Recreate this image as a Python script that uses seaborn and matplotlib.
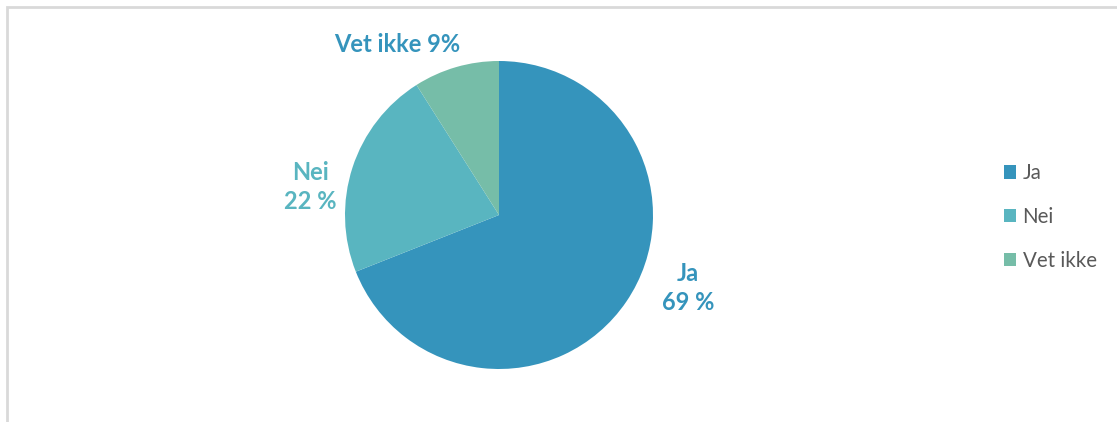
import matplotlib
matplotlib.use("Agg")
import matplotlib.pyplot as plt
import seaborn as sns
from matplotlib.patches import Rectangle, Patch

categories = ["Ja", "Nei", "Vet ikke"]
values = [69, 22, 9]
label_texts = ["Ja\n69 %", "Nei\n22 %", "Vet ikke 9%"]
colors = ["#3594BC", "#59B5C0", "#76BDA8"]
label_colors = ["#3594BC", "#59B5C0", "#3594BC"]

sns.set_theme(style="white")
plt.rcParams['font.family'] = ['Lato', 'DejaVu Sans']

W, H = 1117, 422
fig = plt.figure(figsize=(W / 100, H / 100), dpi=100)
fig.patch.set_facecolor("white")

# frame (left and top edges visible)
fig.patches.append(Rectangle((7 / W, -0.05), 1.2, (H - 7) / H + 0.05,
                             transform=fig.transFigure, fill=False,
                             edgecolor="#D9D9D9", linewidth=2))

R = 154
cx, cy = 499, 215
ax = fig.add_axes([(cx - R) / W, (H - cy - R) / H, 2 * R / W, 2 * R / H])
wedges, _ = ax.pie(values, colors=colors, startangle=90, counterclock=False,
                   radius=1, wedgeprops=dict(linewidth=0))
ax.set_xlim(-1, 1)
ax.set_ylim(-1, 1)
ax.set_aspect("equal")
ax.axis("off")

label_pos = [(1.227, -0.474), (-1.227, 0.182), (-0.662, 1.104)]
for txt, (x, y), c in zip(label_texts, label_pos, label_colors):
    ax.text(x, y, txt, ha="center", va="center", color=c, fontsize=17,
            fontweight="bold", linespacing=1.3, clip_on=False)

handles = [Patch(facecolor=c, edgecolor="none") for c in colors]
leg = fig.legend(handles, categories, loc="center left",
                 bbox_to_anchor=(985 / W, 1 - 217 / H), frameon=False,
                 fontsize=14.8, labelcolor="#595959", handlelength=0.63,
                 handleheight=0.63, handletextpad=0.3, labelspacing=1.15)

fig.savefig("out.png", dpi=100, facecolor="white")
